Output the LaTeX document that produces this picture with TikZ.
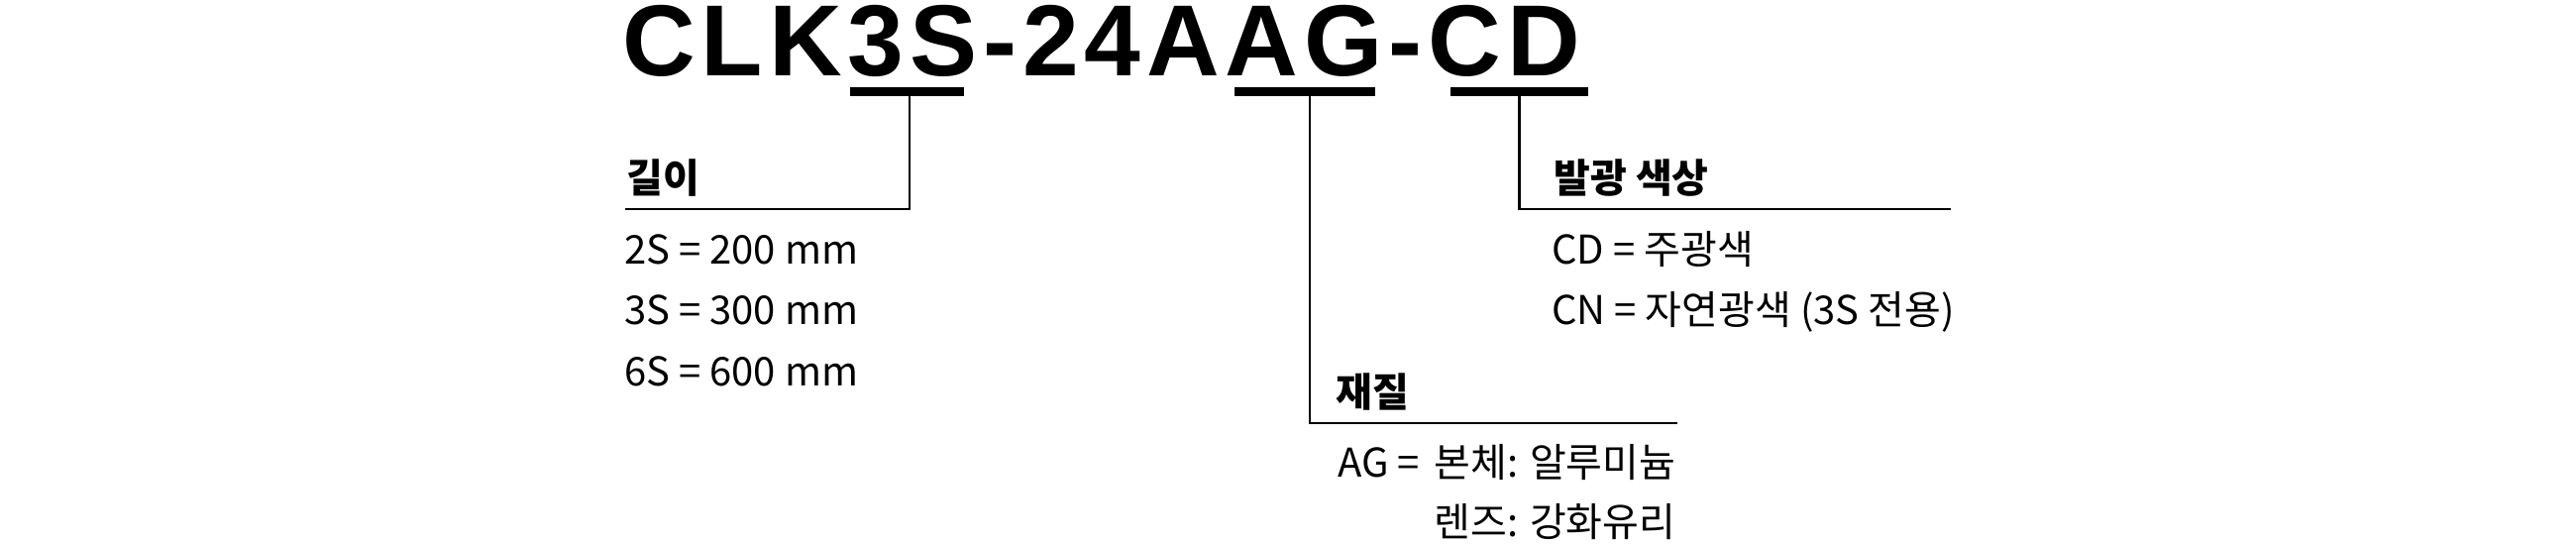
\documentclass[tikz,border=0pt]{standalone}
\usepackage{fontspec}
\setmainfont{Noto Sans CJK KR}
\newfontfamily\titlefont{Liberation Sans}[LetterSpace=5.8]
\begin{document}
\begin{tikzpicture}[x=0.5pt,y=-0.5pt,
  ttl/.style={anchor=base west,inner sep=0pt,font=\titlefont\bfseries\fontsize{51pt}{60pt}\selectfont},
  hd/.style={anchor=base west,inner sep=0pt,font=\bfseries\fontsize{20pt}{24pt}\selectfont},
  itm/.style={anchor=base west,inner sep=0pt,font=\fontsize{20pt}{24pt}\selectfont},
  ul/.style={fill=black,inner sep=0pt,minimum height=4.5pt},
  conn/.style={line width=1.15pt,line cap=rect}]
\useasboundingbox (0,0) rectangle (2600,550);
% title
\node[ttl] (title) at (628,77) {CLK3S-24AAG-CD};
% underlines
\node[ul,minimum width=57.5pt] (u1) at (915.5,93) {};
\node[ul,minimum width=71pt] (u2) at (1317,93) {};
\node[ul,minimum width=69.5pt] (u3) at (1533.5,93) {};
% connector ends
\coordinate (e1) at (632,211);
\coordinate (e2) at (1692,427);
\coordinate (e3) at (1968,211);
\draw[conn] ([xshift=1.25pt]u1.south) |- (e1);
\draw[conn] ([xshift=2.5pt]u2.south) |- (e2);
\draw[conn] (u3.south) |- (e3);
% length
\node[hd] (h1) at (632,195) {길이};
\node[itm] (l1) at (630,267) {2S = 200 mm};
\node[itm] (l2) at (630,328) {3S = 300 mm};
\node[itm] (l3) at (630,389) {6S = 600 mm};
% colour
\node[hd] (h3) at (1568,195) {발광 색상};
\node[itm] (c1) at (1566,267) {CD = 주광색};
\node[itm] (c2) at (1566,328) {CN = 자연광색 (3S 전용)};
% material
\node[hd] (h2) at (1348,410) {재질};
\node[itm] (m0) at (1350,481) {AG =};
\node[itm] (m1) at (1447,481) {본체: 알루미늄};
\node[itm] (m2) at (1447,541) {렌즈: 강화유리};
\end{tikzpicture}
\end{document}
